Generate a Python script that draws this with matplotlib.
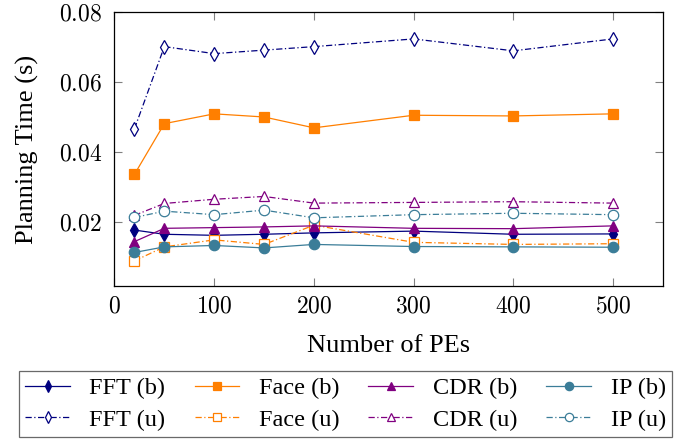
import matplotlib
matplotlib.use("Agg")
import matplotlib.pyplot as plt
from matplotlib.ticker import FixedLocator, FuncFormatter

plt.rcParams['font.family'] = ['Liberation Serif', 'DejaVu Serif']
plt.rcParams['mathtext.fontset'] = 'cm'

pes = [20, 50, 100, 150, 200, 300, 400, 500]

fft_b = [0.0178, 0.0166, 0.0163, 0.0166, 0.0170, 0.0175, 0.0166, 0.0167]
fft_u = [0.0467, 0.0702, 0.0682, 0.0692, 0.0702, 0.0724, 0.0690, 0.0724]
face_b = [0.0337, 0.0482, 0.0510, 0.0501, 0.0470, 0.0506, 0.0504, 0.0510]
face_u = [0.0090, 0.0130, 0.0150, 0.0137, 0.0192, 0.0143, 0.0137, 0.0139]
cdr_b = [0.0145, 0.0183, 0.0185, 0.0187, 0.0190, 0.0183, 0.0182, 0.0190]
cdr_u = [0.0220, 0.0254, 0.0266, 0.0274, 0.0255, 0.0257, 0.0259, 0.0255]
ip_b = [0.0114, 0.0130, 0.0134, 0.0127, 0.0137, 0.0131, 0.0130, 0.0129]
ip_u = [0.0214, 0.0232, 0.0222, 0.0235, 0.0213, 0.0222, 0.0226, 0.0222]

xticks = [0, 100, 200, 300, 400, 500]
yticks = [0.02, 0.04, 0.06, 0.08]

c_fft = '#00007f'
c_face = '#ff7f00'
c_cdr = '#800080'
c_ip = '#3b7d98'

fig = plt.figure(figsize=(6.77, 4.43), dpi=100)
ax = fig.add_axes([0.1691, 0.355, 0.8102, 0.6172])

dashdot = (0, (5, 2, 1, 2))
lw = 0.9
ms = 7.5

series = [
    ('FFT (b)', fft_b, c_fft, 'd', '-', True, ms * 0.95),
    ('FFT (u)', fft_u, c_fft, 'd', dashdot, False, ms * 0.95),
    ('Face (b)', face_b, c_face, 's', '-', True, ms * 1.0),
    ('Face (u)', face_u, c_face, 's', dashdot, False, ms * 1.0),
    ('CDR (b)', cdr_b, c_cdr, '^', '-', True, ms),
    ('CDR (u)', cdr_u, c_cdr, '^', dashdot, False, ms),
    ('IP (b)', ip_b, c_ip, 'o', '-', True, ms * 1.0),
    ('IP (u)', ip_u, c_ip, 'o', dashdot, False, ms * 1.0),
]

for label, vals, col, mk, ls, filled, msz in series:
    ax.plot(pes, vals, color=col, linestyle=ls, linewidth=lw, marker=mk,
            markersize=msz, markerfacecolor=col if filled else 'white',
            markeredgecolor=col, markeredgewidth=0.9, label=label)

ax.set_xlim(0, 550)
ax.set_ylim(0.0019, 0.08)
ax.xaxis.set_major_locator(FixedLocator(xticks))
ax.yaxis.set_major_locator(FixedLocator(yticks))
ax.xaxis.set_major_formatter(FuncFormatter(lambda v, p: r'$%d$' % v))
ax.yaxis.set_major_formatter(FuncFormatter(lambda v, p: r'$%.2f$' % v))
ax.tick_params(direction='in', length=6, width=0.8, color='#808080',
               top=True, right=True, labelsize=17)
ax.tick_params(axis='x', pad=8)
ax.tick_params(axis='y', pad=9)
for s in ax.spines.values():
    s.set_linewidth(0.9)

ax.set_xlabel('Number of PEs', fontsize=19, labelpad=12)
ax.set_ylabel('Planning Time (s)', fontsize=19, labelpad=14)

leg = fig.legend(loc='center', bbox_to_anchor=(19 / 677, 3 / 443, 653 / 677, 72 / 443),
                 mode='expand', ncol=4,
                 fontsize=17.5, frameon=True, fancybox=False, edgecolor='#444444',
                 handlelength=1.85, columnspacing=1.0, handletextpad=0.8,
                 borderpad=0.25, labelspacing=0.4, markerscale=0.8,
                 borderaxespad=0)
leg.get_frame().set_linewidth(0.9)

fig.savefig('out.png', dpi=100)
